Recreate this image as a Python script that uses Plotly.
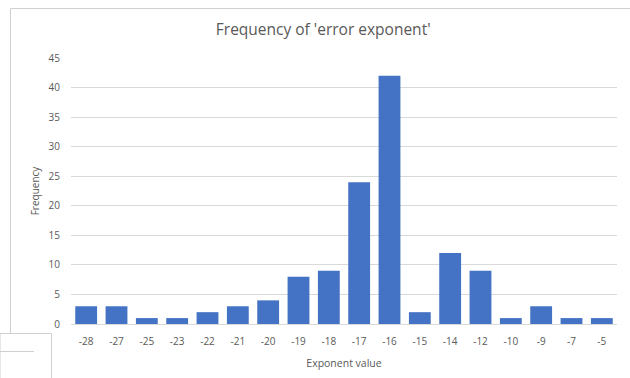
import plotly.graph_objects as go

categories = ["-28", "-27", "-25", "-23", "-22", "-21", "-20", "-19", "-18",
              "-17", "-16", "-15", "-14", "-12", "-10", "-9", "-7", "-5"]
frequency = [3, 3, 1, 1, 2, 3, 4, 8, 9, 24, 42, 2, 12, 9, 1, 3, 1, 1]
y_ticks = [0, 5, 10, 15, 20, 25, 30, 35, 40, 45]

font_family = "Open Sans, Noto Sans, sans-serif"
grey = "#595959"

fig = go.Figure(go.Bar(
    x=categories, y=frequency,
    marker=dict(color="#4472C4", line=dict(width=0)),
))

fig.update_layout(
    width=630, height=378,
    margin=dict(l=71, r=13, t=58, b=54),
    paper_bgcolor="white", plot_bgcolor="white",
    bargap=0.28,
    showlegend=False,
    font=dict(family=font_family, color=grey, size=10),
    title=dict(text="Frequency of 'error exponent'", x=0.513, xanchor="center",
               y=0.922, yanchor="middle",
               font=dict(family=font_family, size=15.5, color=grey)),
)
fig.update_xaxes(
    type="category", showgrid=False, showline=True, linecolor="#d9d9d9",
    linewidth=1, ticks="", tickfont=dict(size=10, color=grey),
    ticklabelstandoff=8,
    title=dict(text="Exponent value", font=dict(size=10.5, color=grey), standoff=12),
)
fig.update_yaxes(
    range=[0, 45], tickvals=y_ticks, showgrid=True, gridcolor="#d9d9d9",
    gridwidth=1, zeroline=False, showline=False, ticks="",
    tickfont=dict(size=10, color=grey), ticklabelstandoff=10,
    title=dict(text="Frequency", font=dict(size=10, color=grey), standoff=7),
)

line_col = "#d0d0d0"
PW, PH = 630 - 71 - 13, 378 - 58 - 54


def px_line(x0, y0, x1, y1):
    # convert pixel coordinates to paper coordinates
    return dict(type="line", xref="paper", yref="paper",
                x0=(x0 - 71) / PW, x1=(x1 - 71) / PW,
                y0=(378 - 54 - y0) / PH, y1=(378 - 54 - y1) / PH,
                line=dict(color=line_col, width=1))


frame = [
    px_line(10.5, 8.5, 630, 8.5),
    px_line(10.5, 8.5, 10.5, 333.5),
]
box = dict(type="rect", xref="paper", yref="paper",
           x0=(0 - 71) / PW, x1=(51.5 - 71) / PW,
           y0=(378 - 54 - 333.5) / PH, y1=(378 - 54 - 380) / PH,
           line=dict(color=line_col, width=1), fillcolor="white")
inner = px_line(0, 351.5, 34, 351.5)
fig.update_layout(shapes=frame + [box, inner])

fig.write_html("out.html")
